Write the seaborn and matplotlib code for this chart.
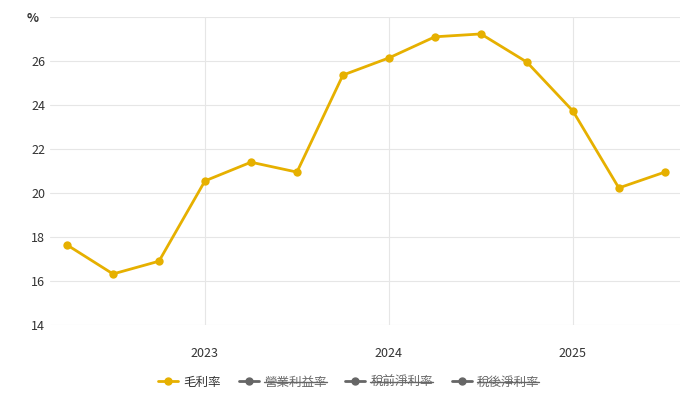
import matplotlib
matplotlib.use("Agg")
import matplotlib.pyplot as plt
import seaborn as sns
import pandas as pd
from matplotlib.lines import Line2D

quarters = ["2022Q2","2022Q3","2022Q4","2023Q1","2023Q2","2023Q3","2023Q4",
            "2024Q1","2024Q2","2024Q3","2024Q4","2025Q1","2025Q2","2025Q3"]
gross_margin = [17.64, 16.32, 16.9, 20.55, 21.4, 20.95, 25.36, 26.14, 27.1, 27.23, 25.95, 23.73, 20.23, 20.95]
year_ticks = ["2023", "2024", "2025"]
legend_labels = ["毛利率", "營業利益率", "稅前淨利率", "稅後淨利率"]

sns.set_theme(style="white")
plt.rcParams['font.family'] = ['Noto Sans CJK JP', 'DejaVu Sans']

df = pd.DataFrame({"idx": range(len(quarters)), "v": gross_margin})
fig = plt.figure(figsize=(6.97, 4.08), dpi=100)
ax = fig.add_axes([50/697, 1-325/408, 630/697, 308/408])
sns.lineplot(data=df, x="idx", y="v", ax=ax, color="#e6b000", marker="o",
             markersize=6, markeredgewidth=0, linewidth=2)
ax.set_xlim(-0.37, 13.33)
ax.set_ylim(14, 28)
ax.set_yticks(range(14, 30, 2))
ax.set_yticklabels([str(v) for v in range(14, 28, 2)] + [""])
ax.set_xticks([3, 7, 11])
ax.set_xticklabels(year_ticks)
ax.grid(True, color="#e6e6e6", linewidth=0.8)
for s in ax.spines.values():
    s.set_visible(False)
ax.tick_params(colors="#333333", labelsize=9, length=0)
ax.tick_params(axis="x", pad=16)
ax.set_xlabel(""); ax.set_ylabel("")
fig.text(27/697, 1-18/408, "%", fontsize=9, color="#333333", ha="left", va="center",
         fontweight="bold")

handles = [Line2D([], [], color="#e6b000", marker="o", markersize=5, linewidth=2)] + \
          [Line2D([], [], color="#666666", marker="o", markersize=5, linewidth=2) for _ in range(3)]
leg = fig.legend(handles, legend_labels, loc="center", bbox_to_anchor=(0.5, 1-382/408),
                 ncol=4, frameon=False, fontsize=9, handlelength=1.6, columnspacing=1.5,
                 handletextpad=0.4)
texts = leg.get_texts()
texts[0].set_color("#333333")
for t in texts[1:]:
    t.set_color("#666666")
fig.canvas.draw()
r = fig.canvas.get_renderer()
for t in texts[1:]:
    bb = t.get_window_extent(r).transformed(fig.transFigure.inverted())
    ym = (bb.y0 + bb.y1) / 2
    fig.add_artist(Line2D([bb.x0, bb.x1], [ym, ym], color="#666666", linewidth=1,
                          transform=fig.transFigure))
fig.savefig("out.png", dpi=100)
